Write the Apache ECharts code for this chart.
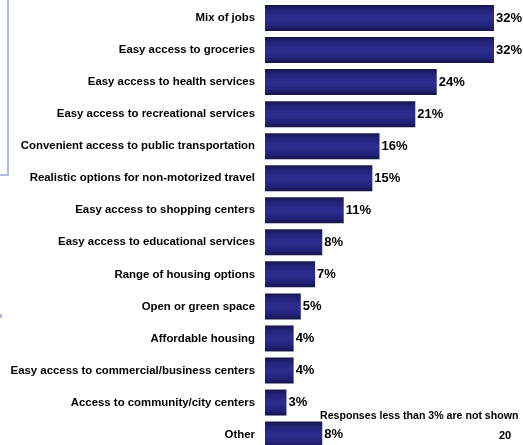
<!DOCTYPE html>
<html>
<head>
<meta charset="utf-8">
<style>
  html, body { margin: 0; padding: 0; background: #ffffff; overflow: hidden; }
  #chart { width: 560px; height: 456px; }
</style>
<script src="https://cdn.jsdelivr.net/npm/echarts@6/dist/echarts.min.js"></script>
</head>
<body>
<div id="chart"></div>
<script>
// Community features chosen by respondents (share of responses, %)
const categories = [
  'Mix of jobs',
  'Easy access to groceries',
  'Easy access to health services',
  'Easy access to recreational services',
  'Convenient access to public transportation',
  'Realistic options for non-motorized travel',
  'Easy access to shopping centers',
  'Easy access to educational services',
  'Range of housing options',
  'Open or green space',
  'Affordable housing',
  'Easy access to commercial/business centers',
  'Access to community/city centers',
  'Other'
];
const values = [32, 32, 24, 21, 16, 15, 11, 8, 7, 5, 4, 4, 3, 8];
const footnote = 'Responses less than 3% are not shown';
const pageNumber = '20';

// The slide continues past the bottom of the visible frame, so the
// drawing surface is a little larger than the window and gets cropped.
const chart = echarts.init(document.getElementById('chart'), null, { renderer: 'canvas' });

const barFill = new echarts.graphic.LinearGradient(0, 0, 0, 1, [
  { offset: 0, color: '#17174c' },
  { offset: 0.2, color: '#232378' },
  { offset: 0.5, color: '#2d2d94' },
  { offset: 0.8, color: '#232378' },
  { offset: 1, color: '#141448' }
]);

const labelFont = 'Liberation Sans, Arial, sans-serif';

chart.setOption({
  animation: false,
  backgroundColor: '#ffffff',
  grid: { left: 265, top: 2, width: 286.25, height: 448.6, containLabel: false },
  xAxis: {
    type: 'value', min: 0, max: 40, show: false
  },
  yAxis: {
    type: 'category',
    data: categories,
    inverse: true,
    axisLine: { show: false },
    axisTick: { show: false },
    splitLine: { show: false },
    axisLabel: {
      margin: 10,
      color: '#000000',
      fontFamily: labelFont,
      fontWeight: 'bold',
      fontSize: 11.4
    }
  },
  series: [{
    type: 'bar',
    data: values,
    barWidth: 26,
    itemStyle: { color: barFill },
    label: {
      show: true,
      position: 'right',
      distance: 2,
      formatter: '{c}%',
      color: '#000000',
      fontFamily: labelFont,
      fontWeight: 'bold',
      fontSize: 13
    }
  }],
  graphic: [
    {
      type: 'polyline',
      shape: { points: [[8, 0], [8, 175], [0, 175]] },
      style: { stroke: '#b3badf', lineWidth: 2, fill: null }
    },
    {
      type: 'line',
      shape: { x1: 1, y1: 314, x2: 1, y2: 318 },
      style: { stroke: '#b3badf', lineWidth: 2 }
    },
    {
      type: 'text',
      left: 320, top: 411,
      style: {
        text: footnote,
        fill: '#000000',
        font: 'bold 10.6px "Liberation Sans", Arial, sans-serif'
      }
    },
    {
      type: 'text',
      left: 499, top: 430,
      style: {
        text: pageNumber,
        fill: '#000000',
        font: 'bold 11px "Liberation Sans", Arial, sans-serif'
      }
    }
  ]
});
</script>
</body>
</html>
